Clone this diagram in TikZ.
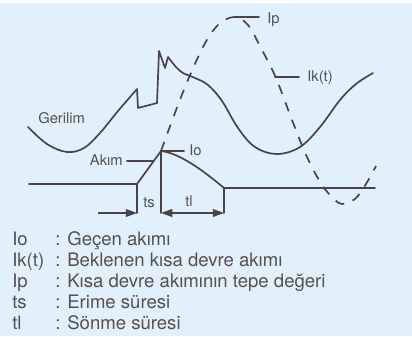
\documentclass[tikz,border=0pt]{standalone}
\usepackage{fontspec}
\setmainfont{TeX Gyre Heros}
\usepackage{xcolor}
\definecolor{fbg}{HTML}{E1F0FA}
\definecolor{fline}{HTML}{4B4446}
\definecolor{ftext}{HTML}{56504F}
\usetikzlibrary{arrows.meta,calc}

\begin{document}
\begin{tikzpicture}[x=0.025cm,y=-0.025cm,
  curve/.style={draw=fline,line width=1.2pt,line join=round,line cap=round},
  prosp/.style={draw=fline,line width=1.2pt,dash pattern=on 6.8pt off 6.4pt},
  lab/.style={inner sep=0pt,anchor=base west,text=ftext,font=\fontsize{10.5}{12}\selectfont},
  leg/.style={inner sep=0pt,anchor=base west,text=ftext,font=\fontsize{13.2}{15}\selectfont},
  dim/.style={draw=fline,line width=1.2pt,-{Triangle[length=8pt,width=5.5pt]}}]
\useasboundingbox (0,0) rectangle (412,336);
\fill[fbg] (0,3) rectangle (412,336);
\coordinate (start) at (29,184);
\coordinate (ramp0) at (137,184);
\coordinate (io) at (161,151);
\coordinate (fall) at (224,188);
\coordinate (stop) at (375,188);
\coordinate (pk) at (235,17);
\coordinate (kt) at (275,77);
\coordinate (akimend) at (153,161);
\coordinate (tsL) at (98,213);
\draw[curve] plot[smooth,tension=0.6] coordinates {(28,127) (47,144) (67,152) (84,148) (100,133) (118,111) (137,89)}
  -- (138,108) -- (157,103) -- (159,51) -- (165,68) -- (168,57)
  plot[smooth,tension=0.6] coordinates {(168,57) (176,67) (183,73) (195,78) (208,85) (222,101) (238,128) (255,147) (277,154) (300,147) (320,127) (340,100) (356,84) (373,73)};
\draw[prosp] plot[smooth,tension=0.55] coordinates {(io) (183,92) (203,47) (218,25) (234,17) (248,25) (262,50) (276,78) (292,120) (307,157) (322,185) (334,199) (342,204) (355,199) (366,184) (376,166)};
\draw[curve] (start) -- (ramp0) -- (io) .. controls (180,153) and (205,172) .. (fall) -- (stop);
\draw[curve] (ramp0) -- (ramp0 |- tsL);
\draw[curve] (io) -- (io |- tsL);
\draw[curve] (fall) -- (fall |- tsL);
\draw[dim] (tsL) -- (tsL -| ramp0);
\draw[dim,{Triangle[length=8pt,width=5.5pt]}-{Triangle[length=8pt,width=5.5pt]}] (io |- tsL) -- (fall |- tsL);
\node[lab] (ger) at (38,123) {Gerilim};
\node[lab,anchor=base east] (akim) at (123,165) {Akım};
\node[lab] (iolab) at (189,155) {Io};
\node[lab] (iplab) at (267,23) {Ip};
\node[lab] (ktlab) at (307,81) {Ik(t)};
\node[lab] (ts) at (143,207) {ts};
\node[lab] (tl) at (185,206) {tl};
\draw[curve,shorten <=2.8pt] (akimend -| akim.east) -- (akimend);
\draw[curve,shorten >=3.5pt] (io) -- (io -| iolab.west);
\draw[curve,shorten >=5.7pt] (pk) -- (pk -| iplab.west);
\draw[curve,shorten >=5.7pt] (kt) -- (kt -| ktlab.west);
\node[leg] (l1) at (12,245) {\makebox[1.075cm][l]{Io}: Geçen akımı};
\node[leg] (l2) at (12,266) {\makebox[1.075cm][l]{Ik(t)}: Beklenen kısa devre akımı};
\node[leg] (l3) at (12,287) {\makebox[1.075cm][l]{Ip}: Kısa devre akımının tepe değeri};
\node[leg] (l4) at (12,308) {\makebox[1.075cm][l]{ts}: Erime süresi};
\node[leg] (l5) at (12,329) {\makebox[1.075cm][l]{tl}: Sönme süresi};
\end{tikzpicture}
\end{document}
